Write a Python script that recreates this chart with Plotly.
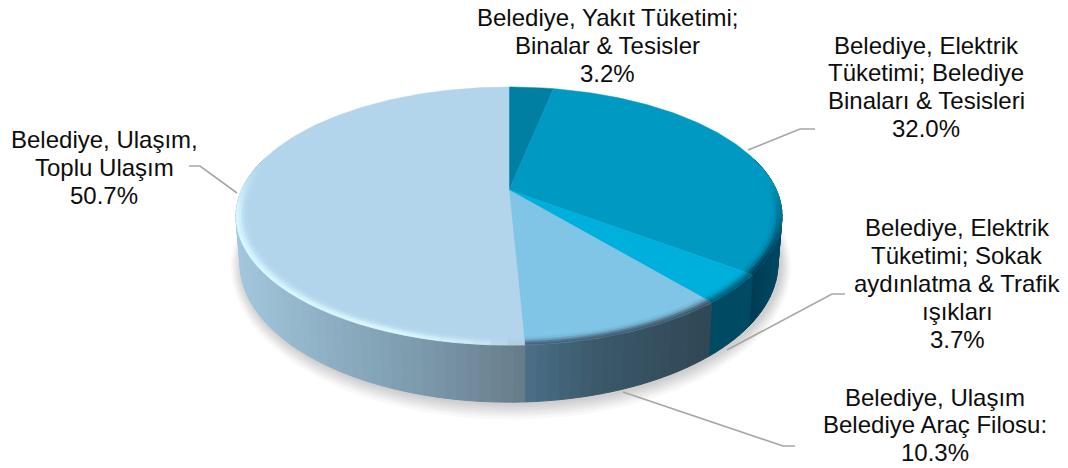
import math
import plotly.graph_objects as go

# ---- data ----
categories = [
    "Belediye, Yakıt Tüketimi; Binalar & Tesisler",
    "Belediye, Elektrik Tüketimi; Belediye Binaları & Tesisleri",
    "Belediye, Elektrik Tüketimi; Sokak aydınlatma & Trafik ışıkları",
    "Belediye, Ulaşım Belediye Araç Filosu:",
    "Belediye, Ulaşım, Toplu Ulaşım",
]
values = [3.2, 32.0, 3.7, 10.3, 50.7]
label_lines = [
    ["Belediye, Yakıt Tüketimi;", "Binalar & Tesisler", "3.2%"],
    ["Belediye, Elektrik", "Tüketimi; Belediye", "Binaları & Tesisleri", "32.0%"],
    ["Belediye, Elektrik", "Tüketimi; Sokak", "aydınlatma & Trafik", "ışıkları", "3.7%"],
    ["Belediye, Ulaşım", "Belediye Araç Filosu:", "10.3%"],
    ["Belediye, Ulaşım,", "Toplu Ulaşım", "50.7%"],
]
top_colors = ["#007fa3", "#0099c2", "#00b0dc", "#80c5e6", "#b2d5ec"]
# wall colour stops: (pixel x, colour)
wall_stops = [
    [(500, "#00455c"), (800, "#00455c")],
    [(700, "#004a64"), (748, "#004860"), (752, "#003b52"), (785, "#004a66")],
    [(700, "#004a64"), (755, "#004a64")],
    [(520, "#4b7189"), (600, "#3b5869"), (710, "#304755")],
    [(235, "#a3c7dd"), (300, "#94b6ca"), (400, "#7f9fb1"), (480, "#70899a"), (530, "#667a85")],
]
rim_stops = [
    [(500, "#007fa3"), (800, "#007fa3")],
    [(700, "#003f58"), (800, "#003f58")],
    [(700, "#00617f"), (800, "#00617f")],
    [(520, "#49667a"), (710, "#3f5a6c")],
    [(235, "#d8f6ff"), (400, "#dcf8ff"), (480, "#c8e8f4"), (530, "#a9c3d0")],
]

# label placement: centre x, line y's
label_x = [607, 926, 957, 935, 104]
label_y = [[17, 45, 73], [45, 72, 100, 128], [227, 255, 283, 311, 339], [397, 424, 452], [139, 167, 195]]
leaders = [
    ([748, 800, 815], [150, 129, 129]),
    ([727, 832, 845], [350, 294, 294]),
    ([623, 783, 795], [392, 446, 446]),
    ([189, 200, 237], [166, 166, 193]),
]

# ---- pie geometry (perspective disc) ----
CX, CY, RX, RY, K, DEPTH, TAPER = 509, 190, 267.4, 123.8, 0.2016, 45.6, 0.015


def project(theta, r=1.0, z=0.0):
    X, Y = r * math.sin(theta), -r * math.cos(theta)
    w = 1 - K * Y
    return CX + RX * X / w * (1 - TAPER * z), CY + RY * Y / w + DEPTH * z / w


def rgb(c):
    return tuple(int(c[i:i + 2], 16) for i in (1, 3, 5))


def mix(a, b, f):
    a, b = rgb(a), rgb(b)
    return "#%02x%02x%02x" % tuple(round(a[i] + (b[i] - a[i]) * f) for i in range(3))


def stop_color(stops, x):
    if x <= stops[0][0]:
        return stops[0][1]
    for (x0, c0), (x1, c1) in zip(stops, stops[1:]):
        if x <= x1:
            return mix(c0, c1, (x - x0) / (x1 - x0))
    return stops[-1][1]


def frange(a, b, step):
    n = max(1, int(math.ceil((b - a) / step)))
    return [a + (b - a) * i / n for i in range(n + 1)]


total = sum(values)
edges = [0.0]
for v in values:
    edges.append(edges[-1] + v / total * 2 * math.pi)

fig = go.Figure()


def poly(xs, ys, fill, line=None, lw=0.0):
    fig.add_trace(go.Scatter(
        x=xs, y=ys, mode="lines", fill="toself", fillcolor=fill,
        line=dict(color=line or fill, width=lw), hoverinfo="skip", showlegend=False))


# shadow
all_t = frange(0, 2 * math.pi, math.radians(3))
for grow in [11, 9, 7.5, 6, 4.5, 3, 1.5]:
    pts = [project(t, 1.0, 1.0) for t in all_t]
    xs = [CX + (p[0] - CX) * (1 + grow / 265) + 2 for p in pts]
    ys = [CY + 55 + (p[1] - CY - 55) * (1 + grow / 105) + 1 for p in pts]
    poly(xs, ys, "rgba(0,0,0,0.028)")

# leader lines
for lx, ly in leaders:
    fig.add_trace(go.Scatter(x=lx, y=ly, mode="lines", line=dict(color="#a6a6a6", width=1.6),
                             hoverinfo="skip", showlegend=False))

# walls
for i in range(len(values)):
    a, b = edges[i], edges[i + 1]
    a2, b2 = max(a, math.radians(75)), min(b, math.radians(285))
    if b2 <= a2:
        continue
    ts = frange(a2, b2, math.radians(2))
    for t0, t1 in zip(ts, ts[1:]):
        p = [project(t0), project(t1), project(t1, 1, 1), project(t0, 1, 1)]
        col = stop_color(wall_stops[i], (p[0][0] + p[1][0]) / 2)
        poly([q[0] for q in p] + [p[0][0]], [q[1] for q in p] + [p[0][1]], col, lw=1)

# top face
for i in range(len(values)):
    ts = frange(edges[i], edges[i + 1], math.radians(1))
    pts = [project(t) for t in ts]
    poly([CX] + [p[0] for p in pts] + [CX], [CY] + [p[1] for p in pts] + [CY], top_colors[i], lw=0.5)


def rim_strength(t):
    d = math.degrees(t)
    if d < 85 or d > 282:
        return 0.0
    if d < 120:
        return (d - 85) / 35
    if d > 262:
        return (282 - d) / 20
    return 1.0


# bevel along the front edge
levels = [(0.96, 0.972, 0.1), (0.972, 0.982, 0.35), (0.982, 0.992, 0.75), (0.992, 1.0, 1.0)]
for i in range(len(values)):
    a, b = max(edges[i], math.radians(85)), min(edges[i + 1], math.radians(282))
    if b <= a:
        continue
    ts = frange(a, b, math.radians(3))
    for r0, r1, f in levels:
        for t0, t1 in zip(ts, ts[1:]):
            s = rim_strength((t0 + t1) / 2) * f
            x = project((t0 + t1) / 2)[0]
            col = mix(top_colors[i], stop_color(rim_stops[i], x), s)
            p = [project(t0, r0), project(t1, r0), project(t1, r1), project(t0, r1)]
            poly([q[0] for q in p] + [p[0][0]], [q[1] for q in p] + [p[0][1]], col, lw=0.6)

# labels
annotations = []
for lines, x, ys in zip(label_lines, label_x, label_y):
    for line, y in zip(lines, ys):
        annotations.append(dict(x=x, y=y, text=line, showarrow=False, xanchor="center", yanchor="middle",
                                font=dict(family="Liberation Sans", size=24, color="#0d0d0d")))

fig.update_layout(
    width=1068, height=468, margin=dict(l=0, r=0, t=0, b=0),
    paper_bgcolor="white", plot_bgcolor="white", showlegend=False,
    xaxis=dict(range=[0, 1068], visible=False, fixedrange=True),
    yaxis=dict(range=[468, 0], visible=False, fixedrange=True),
    annotations=annotations,
)
fig.write_html("out.html", config={"displayModeBar": False},
               post_script="document.body.style.margin='0';document.body.style.overflow='hidden';")
